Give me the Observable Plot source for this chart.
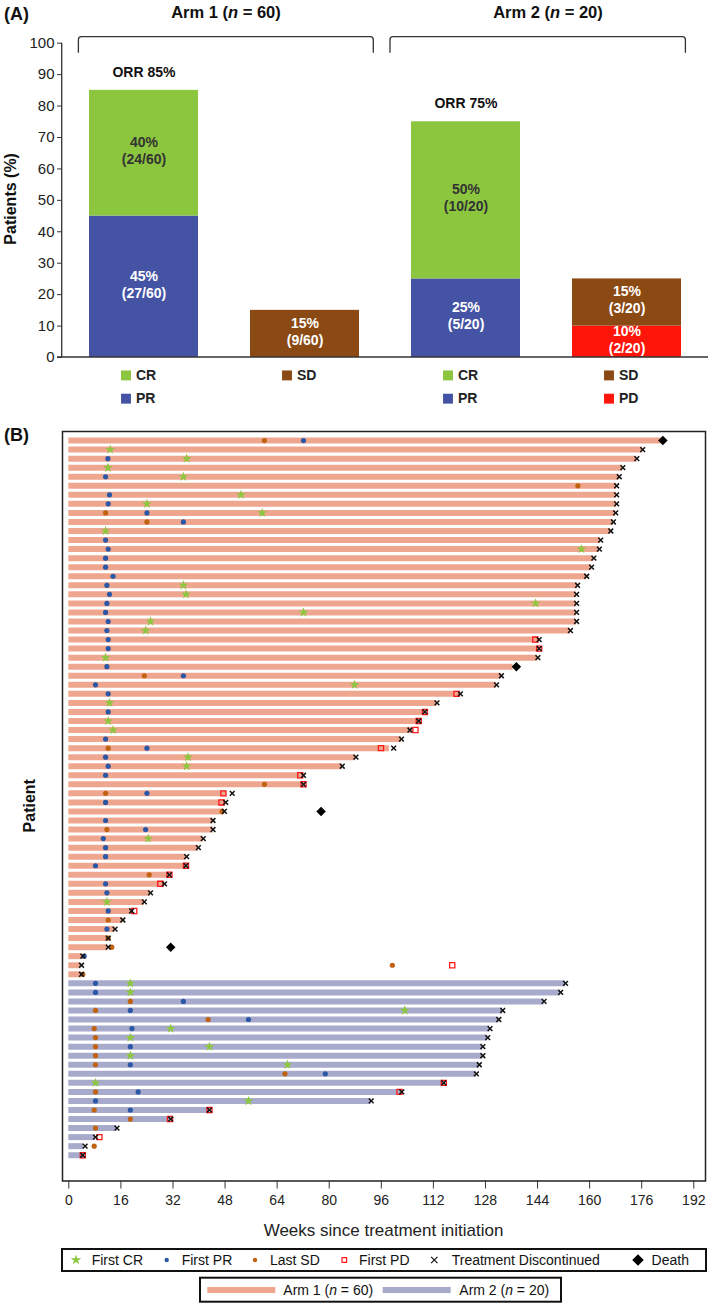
<!DOCTYPE html>
<html><head><meta charset="utf-8">
<script src="https://cdn.jsdelivr.net/npm/d3@7"></script>
<script src="https://cdn.jsdelivr.net/npm/@observablehq/plot@0.6"></script>
<style>
body{margin:0;background:#fff;font-family:"Liberation Sans",Arial,sans-serif;}
#root{width:709px;}
svg{display:block;overflow:visible}
</style></head><body><div id="root"></div>
<script>
// ================= Panel A data =================
const barGroups = ["arm1Resp","arm1SD","arm2Resp","arm2Rest"];
const segGroup = ["arm1Resp","arm1Resp","arm1SD","arm2Resp","arm2Resp","arm2Rest","arm2Rest"];
const segCategory = ["PR","CR","SD","PR","CR","PD","SD"];
const segValue = [45,40,15,25,50,10,15];
const segLabel = ["45%\n(27/60)","40%\n(24/60)","15%\n(9/60)","25%\n(5/20)","50%\n(10/20)","10%\n(2/20)","15%\n(3/20)"];
const orrGroup = ["arm1Resp","arm2Resp"];
const orrValue = [85,75];
const orrLabel = ["ORR 85%","ORR 75%"];
const armName = ["Arm 1","Arm 2"];
const armN = [60,20];
const legendGroup = ["arm1Resp","arm1Resp","arm1SD","arm2Resp","arm2Resp","arm2Rest","arm2Rest"];
const legendCategory = ["CR","PR","SD","CR","PR","SD","PD"];
const legendLine = [0,1,0,0,1,0,1];
const yTicksA = [0,10,20,30,40,50,60,70,80,90,100];
const respCats = ["CR","PR","SD","PD"];
const respColors = ["#8CC63F","#4453A4","#8B4A14","#FF150A"];

// ================= Panel B data =================
// bar end (weeks) per patient; arm 1 = patients 1-60, arm 2 = patients 61-80
const barEndArm1 = [182,176.3,174.5,170.2,169.1,168.3,168.3,168.3,168,167.3,
 166.5,163.4,163,161.3,160.6,159.1,156.3,156,156,156,
 156,154.1,144.5,144.5,144.1,136.5,132.9,131.4,120.3,113.1,
 109.4,107.5,105.5,102.2,98.5,88.2,84,72.1,72.1,48.5,
 48.2,47.8,44.3,44.3,41.3,39.8,36.2,36,30.9,29.4,
 25.1,23.2,19.3,16.6,14.2,12.1,12.1,4.3,3.7,3.9];
const barEndArm2 = [152.6,151.1,146,133.3,132.1,129.4,128.7,127.2,127.2,126.1,
 125.2,115.2,102.3,92.9,43.2,31.1,14.8,8.2,4.5,4.6];
// events: [patient, week]
const firstCR = [[2,12.7],[3,36.2],[4,12],[5,35.2],[7,52.9],[8,24],[9,59.4],[11,11.3],[13,157.5],[17,35.2],
 [18,36],[19,143.4],[20,72.1],[21,25.1],[22,23.6],[25,11.3],[28,87.8],[30,12.5],[32,12.1],[33,13.6],
 [36,36.6],[37,36.2],[45,24.4],[52,11.7],
 [61,18.9],[62,18.9],[64,103.2],[66,31.3],[67,18.9],[68,43.2],[69,18.9],[70,67.2],[72,8.2],[74,55.2]];
const firstPR = [[1,72.1],[3,12],[5,11.3],[7,12.5],[8,12.1],[9,24],[10,35.2],[12,11.3],[13,12.1],[14,11.3],
 [15,11.3],[16,13.6],[17,11.7],[18,12.5],[19,11.7],[20,11.3],[21,12.1],[22,11.7],[23,12.1],[24,12.1],
 [26,11.7],[27,35.2],[28,8.2],[29,12.1],[31,12.1],[34,11.3],[35,24],[36,11.3],[37,12.1],[38,11.3],
 [40,24],[41,11.3],[43,11.3],[44,23.6],[45,10.6],[46,11.3],[47,11.3],[48,8.2],[50,11.3],[51,11.7],
 [53,12.1],[55,11.7],[58,4.7],
 [61,8.2],[62,8.2],[63,35.2],[64,18.9],[65,55.2],[66,19.4],[68,18.9],[70,18.9],[71,78.8],[73,21.3],[74,8.2],[75,18.9]];
const lastSD = [[1,60.1],[6,156.4],[9,11.3],[10,24],[27,23.2],[35,12.1],[39,60.1],[40,11.3],[42,47.1],[44,11.7],
 [49,24.7],[54,12.1],[56,12.1],[57,13.2],[59,99.4],[60,4.3],
 [63,18.9],[64,8.2],[65,42.8],[66,7.8],[67,8.2],[68,8.2],[69,8.2],[70,8.2],[71,66.4],[73,8.2],[75,7.8],[76,18.9],[77,8.2],[79,7.8]];
const firstPD = [[23,143.3],[24,144.5],[29,119.1],[31,109.4],[32,107.5],[33,106.5],[35,95.9],[38,71.1],[39,72.1],[40,47.5],
 [41,46.9],[48,36],[49,30.9],[50,28.1],[53,20.1],[59,117.8],
 [72,115.2],[73,101.6],[75,43.2],[76,31.1],[78,9.4],[80,4.3]];
const discontinued = [[2,176.3],[3,174.5],[4,170.2],[5,169.1],[6,168.3],[7,168.3],[8,168.3],[9,168],[10,167.3],[11,166.5],
 [12,163.4],[13,163],[14,161.3],[15,160.6],[16,159.1],[17,156.3],[18,156],[19,156],[20,156],[21,156],
 [22,154.1],[23,144.5],[24,144.5],[25,144.1],[27,132.9],[28,131.4],[29,120.3],[30,113.1],[31,109.4],[32,107.5],
 [33,104.8],[34,102.2],[35,99.8],[36,88.2],[37,84],[38,72.1],[39,72.1],[40,50.2],[41,48.2],[42,47.8],
 [43,44.3],[44,44.3],[45,41.3],[46,39.8],[47,36.2],[48,36],[49,30.9],[50,29.4],[51,25.1],[52,23.2],
 [53,19.3],[54,16.6],[55,14.2],[56,12.1],[57,12.1],[58,4.3],[59,3.9],[60,3.9],
 [61,152.6],[62,151.1],[63,146],[64,133.3],[65,132.1],[66,129.4],[67,128.7],[68,127.2],[69,127.2],[70,126.1],
 [71,125.2],[72,115.2],[73,102.3],[74,92.9],[75,43.2],[76,31.3],[77,14.8],[78,8.2],[79,5],[80,4.3]];
const death = [[1,182.5],[26,137.5],[42,77.5],[57,31.3]];
const weekTicks = [0,16,32,48,64,80,96,112,128,144,160,176,192];
const eventNames = ["First CR","First PR","Last SD","First PD","Treatment Discontinued","Death"];

const FONT = "'Liberation Sans', Arial, sans-serif";
const root = document.getElementById("root");

// ---------------- Panel A ----------------
const segs = segGroup.map((g,i)=>({group:g, cat:segCategory[i], value:segValue[i], label:segLabel[i]}));
const acc = {};
segs.forEach(s=>{ s.y1 = acc[s.group]||0; s.y2 = s.y1 + s.value; acc[s.group] = s.y2; s.ym = (s.y1+s.y2)/2; });
const orr = orrGroup.map((g,i)=>({group:g, value:orrValue[i], label:orrLabel[i]}));
const legA = legendGroup.map((g,i)=>({group:g, cat:legendCategory[i], line:legendLine[i]}));
const legY = d => d.line === 0 ? -5.7 : -13.1;

const plotA = Plot.plot({
  width: 709, height: 405,
  marginTop: 42.7, marginBottom: 48, marginLeft: 62, marginRight: 1,
  x: {domain: barGroups, paddingInner: 0.323, paddingOuter: 0.1615, axis: null},
  y: {domain: [0,100], axis: null},
  color: {domain: respCats, range: respColors},
  style: {fontFamily: FONT, background: "white", overflow: "visible"},
  marks: [
    Plot.barY(segs, {x:"group", y1:"y1", y2:"y2", fill:"cat"}),
    Plot.text(segs.filter(d=>d.cat==="CR"), {x:"group", y:"ym", text:"label", fill:"#333", fontWeight:"bold", fontSize:14, lineHeight:1.2, dy:-3}),
    Plot.text(segs.filter(d=>d.cat!=="CR"), {x:"group", y:"ym", text:"label", fill:"white", fontWeight:"bold", fontSize:14, lineHeight:1.2, dy:-3}),
    Plot.text(orr, {x:"group", y:"value", text:"label", dy:-18, fill:"#111", fontWeight:"bold", fontSize:14}),
    Plot.axisY({ticks: yTicksA, tickSize: 5, tickPadding: 3, fontSize: 15, label: null, stroke:"#333", fill:"#222"}),
    Plot.dot(legA, {x:"group", y:legY, dx:-18, symbol:"square", r:5.6, fill:"cat"}),
    Plot.text(legA, {x:"group", y:legY, text:"cat", dx:-8, textAnchor:"start", fill:"#222", fontWeight:"bold", fontSize:14})
  ]
});
root.appendChild(plotA);
{
  const svg = d3.select(plotA);
  const xs = plotA.scale("x"), ys = plotA.scale("y");
  const bw = xs.bandwidth;
  const y0 = ys.apply(0), y100 = ys.apply(100);
  // axes lines
  svg.append("line").attr("x1",61.7).attr("x2",61.7).attr("y1",y100).attr("y2",y0).attr("stroke","#333").attr("stroke-width",1.3);
  svg.append("line").attr("x1",57).attr("x2",708).attr("y1",y0).attr("y2",y0).attr("stroke","#333").attr("stroke-width",1.5);
  // panel label
  svg.append("text").attr("x",4).attr("y",19.5).attr("text-anchor","start").attr("font-family",FONT).attr("font-weight","bold").attr("font-size",18).attr("fill","#111").text("(A)");
  // y label
  svg.append("text").attr("transform",`translate(10,${(y0+y100)/2 - 1}) rotate(-90)`).attr("text-anchor","middle").attr("dominant-baseline","central")
    .attr("font-family",FONT).attr("font-weight","bold").attr("font-size",16).attr("fill","#111").text("Patients (%)");
  // arm titles & brackets
  const pairs = [["arm1Resp","arm1SD",10.6,14.3],["arm2Resp","arm2Rest",21,-4.4]];
  pairs.forEach(([a,b,padL,padR],k)=>{
    const xa = xs.apply(a), xb = xs.apply(b) + bw;
    const L = xa - padL, R = xb + (k===0?padR:-padR);
    const top = y100 - 6, bot = y100 + 10;
    svg.append("path").attr("d",`M${L},${bot}V${top+3}Q${L},${top} ${L+3},${top}H${R-3}Q${R},${top} ${R},${top+3}V${bot}`)
      .attr("fill","none").attr("stroke","#333").attr("stroke-width",1.3);
    const t = svg.append("text").attr("x",(xa+xb)/2 + 2).attr("y",18.3).attr("text-anchor","middle")
      .attr("font-family",FONT).attr("font-weight","bold").attr("font-size",16.5).attr("fill","#111");
    t.append("tspan").text(armName[k] + " (");
    t.append("tspan").attr("font-style","italic").text("n");
    t.append("tspan").text(" = " + armN[k] + ")");
  });
}

// ---------------- Panel B ----------------
const rows1 = barEndArm1.map((e,i)=>({patient:i+1, end:e}));
const rows2 = barEndArm2.map((e,i)=>({patient:i+61, end:e}));
const px = d => d[1], py = d => d[0];
const C = {cr:"#8DC63F", pr:"#2B57A7", sd:"#C0620F", pd:"#FF1A1A", arm1:"#EFA68E", arm2:"#A8AACB"};

const plotB = Plot.plot({
  width: 709, height: 898,
  marginTop: 26, marginLeft: 62, marginRight: 4, marginBottom: 122.5,
  x: {domain: [-1.94, 195.6], axis: null},
  y: {domain: [82.85, 0], axis: null},
  style: {fontFamily: FONT, background: "white", overflow: "visible"},
  marks: [
    Plot.ruleY(rows1, {y:"patient", x1:0, x2:"end", stroke:C.arm1, strokeWidth:6}),
    Plot.ruleY(rows2, {y:"patient", x1:0, x2:"end", stroke:C.arm2, strokeWidth:6}),
    Plot.dot(lastSD, {x:px, y:py, r:2.6, fill:C.sd}),
    Plot.dot(firstPR, {x:px, y:py, r:2.6, fill:C.pr}),
    Plot.dot(firstCR, {x:px, y:py, symbol:"star", r:3.1, fill:C.cr}),
    Plot.dot(firstPD, {x:px, y:py, symbol:"square", r:2.9, fill:"none", stroke:C.pd, strokeWidth:1.3}),
    Plot.dot(discontinued, {x:px, y:py, symbol:"times", r:2.3, fill:"none", stroke:"#111", strokeWidth:1.5}),
    Plot.dot(death, {x:px, y:py, symbol:"diamond2", r:4.3, fill:"#000"}),
    Plot.frame({stroke:"#222", strokeWidth:1.5}),
    Plot.axisX({ticks: weekTicks, tickSize: 8, tickPadding: 6, fontSize: 14, label: null, stroke:"#333", fill:"#222"})
  ]
});
root.appendChild(plotB);
{
  const svg = d3.select(plotB);
  const frameBottom = 898 - 122.5;
  svg.append("text").attr("x",4).attr("y",35.7).attr("text-anchor","start").attr("font-family",FONT).attr("font-weight","bold").attr("font-size",18).attr("fill","#111").text("(B)");
  svg.append("text").attr("transform",`translate(29,${(26+frameBottom)/2}) rotate(-90)`).attr("text-anchor","middle").attr("dominant-baseline","central")
    .attr("font-family",FONT).attr("font-weight","bold").attr("font-size",16).attr("fill","#111").text("Patient");
  svg.append("text").attr("x",(62+705)/2).attr("y",frameBottom + 50).attr("text-anchor","middle").attr("dominant-baseline","central")
    .attr("font-family",FONT).attr("font-size",17).attr("fill","#222").text("Weeks since treatment initiation");

  // legend 1
  const ly = 855;
  svg.append("rect").attr("x",62).attr("y",844).attr("width",644).attr("height",22).attr("fill","white").attr("stroke","#111").attr("stroke-width",2);
  const sym = (type, r) => d3.symbol(type, Math.PI*r*r)();
  const items = [
    {sx:76, tx:91.7, path:sym(d3.symbolStar,3.3), fill:C.cr, stroke:"none"},
    {sx:166.7, tx:181.7, path:sym(d3.symbolCircle,2.2), fill:C.pr, stroke:"none"},
    {sx:255, tx:270, path:sym(d3.symbolCircle,2.2), fill:C.sd, stroke:"none"},
    {sx:344.3, tx:359, path:sym(d3.symbolSquare,2.6), fill:"none", stroke:C.pd},
    {sx:434.3, tx:451.7, path:sym(d3.symbolTimes,3), fill:"none", stroke:"#111"},
    {sx:638, tx:651.6, path:sym(d3.symbolDiamond2,5.2), fill:"#000", stroke:"none"}
  ];
  items.forEach((it,i)=>{
    svg.append("path").attr("d",it.path).attr("transform",`translate(${it.sx},${ly})`).attr("fill",it.fill).attr("stroke",it.stroke).attr("stroke-width",1.2);
    svg.append("text").attr("x",it.tx).attr("y",ly).attr("text-anchor","start").attr("dominant-baseline","central").attr("font-family",FONT).attr("font-size",14).attr("fill","#111").text(eventNames[i]);
  });
  // legend 2
  const l2 = 885;
  svg.append("rect").attr("x",200).attr("y",872.7).attr("width",361).attr("height",24).attr("fill","white").attr("stroke","#111").attr("stroke-width",2);
  [[207.3,275.3,283.3,C.arm1,0],[382.7,450.7,459.3,C.arm2,1]].forEach(([a,b,tx,col,k])=>{
    svg.append("line").attr("x1",a).attr("x2",b).attr("y1",l2).attr("y2",l2).attr("stroke",col).attr("stroke-width",6);
    const t = svg.append("text").attr("x",tx).attr("y",l2).attr("text-anchor","start").attr("dominant-baseline","central").attr("font-family",FONT).attr("font-size",14).attr("fill","#111");
    t.append("tspan").text(armName[k] + " (");
    t.append("tspan").attr("font-style","italic").text("n");
    t.append("tspan").text(" = " + armN[k] + ")");
  });
}
</script>
</body></html>
